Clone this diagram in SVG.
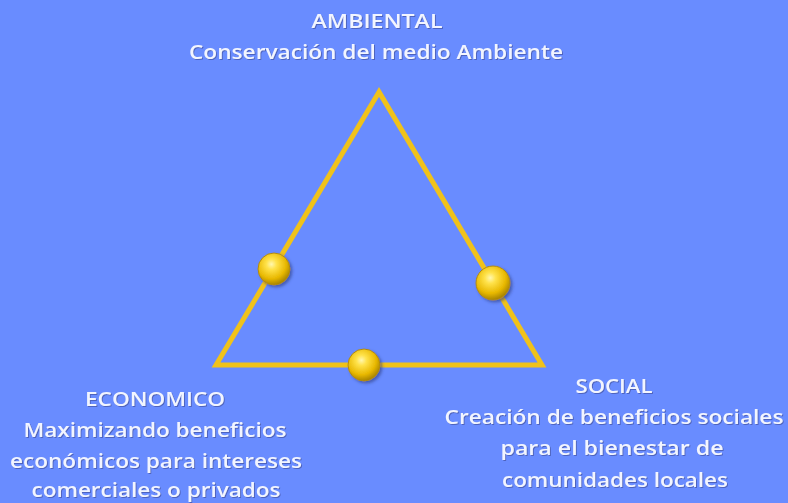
<svg xmlns="http://www.w3.org/2000/svg" width="788" height="503" viewBox="0 0 788 503">
<style>
.t{font-family:"Open Sans","Liberation Sans",sans-serif;font-weight:600;font-size:20px;fill:#F2F5FF;text-anchor:middle;filter:url(#sh)}
.tri{fill:none;stroke:#F0C21A;stroke-width:5;stroke-linejoin:miter}
.ball{fill:url(#bg);stroke:#B08A10;stroke-width:1;filter:url(#bs)}
</style>
<defs>
<radialGradient id="bg" cx="0.42" cy="0.35" r="0.65">
<stop offset="0" stop-color="#FFF7B0"/>
<stop offset="0.25" stop-color="#FFE24A"/>
<stop offset="0.7" stop-color="#E8B800"/>
<stop offset="1" stop-color="#A88400"/>
</radialGradient>
<filter id="sh" x="-10%" y="-30%" width="120%" height="160%">
<feDropShadow dx="1" dy="1" stdDeviation="0.6" flood-color="#3A4A90" flood-opacity="0.6"/>
</filter>
<filter id="bs" x="-50%" y="-50%" width="200%" height="200%">
<feDropShadow dx="2" dy="2" stdDeviation="1.5" flood-color="#2A3A80" flood-opacity="0.6"/>
</filter>
</defs>
<rect width="788" height="503" fill="#698CFF"/>
<g id="connectors">
<polygon class="tri" points="379,92 216,365 542,365"/>
</g>
<g id="node-ambiental">
<text class="t" x="377" y="28" textLength="131" lengthAdjust="spacingAndGlyphs">AMBIENTAL</text>
<text class="t" x="376" y="59" textLength="374" lengthAdjust="spacingAndGlyphs">Conservación del medio Ambiente</text>
</g>
<g id="node-economico">
<text class="t" x="155" y="406" textLength="140" lengthAdjust="spacingAndGlyphs">ECONOMICO</text>
<text class="t" x="155" y="437" textLength="263" lengthAdjust="spacingAndGlyphs">Maximizando beneficios</text>
<text class="t" x="156" y="468" textLength="292" lengthAdjust="spacingAndGlyphs">económicos para intereses</text>
<text class="t" x="156" y="497" textLength="249" lengthAdjust="spacingAndGlyphs">comerciales o privados</text>
</g>
<g id="node-social">
<text class="t" x="614" y="393" textLength="77" lengthAdjust="spacingAndGlyphs">SOCIAL</text>
<text class="t" x="614" y="424" textLength="339" lengthAdjust="spacingAndGlyphs">Creación de beneficios sociales</text>
<text class="t" x="612" y="455" textLength="223" lengthAdjust="spacingAndGlyphs">para el bienestar de</text>
<text class="t" x="615" y="487" textLength="226" lengthAdjust="spacingAndGlyphs">comunidades locales</text>
</g>
<g id="ball-left"><circle class="ball" cx="274" cy="269" r="16"/></g>
<g id="ball-right"><circle class="ball" cx="493" cy="283" r="17"/></g>
<g id="ball-bottom"><circle class="ball" cx="364" cy="365" r="16"/></g>
</svg>
